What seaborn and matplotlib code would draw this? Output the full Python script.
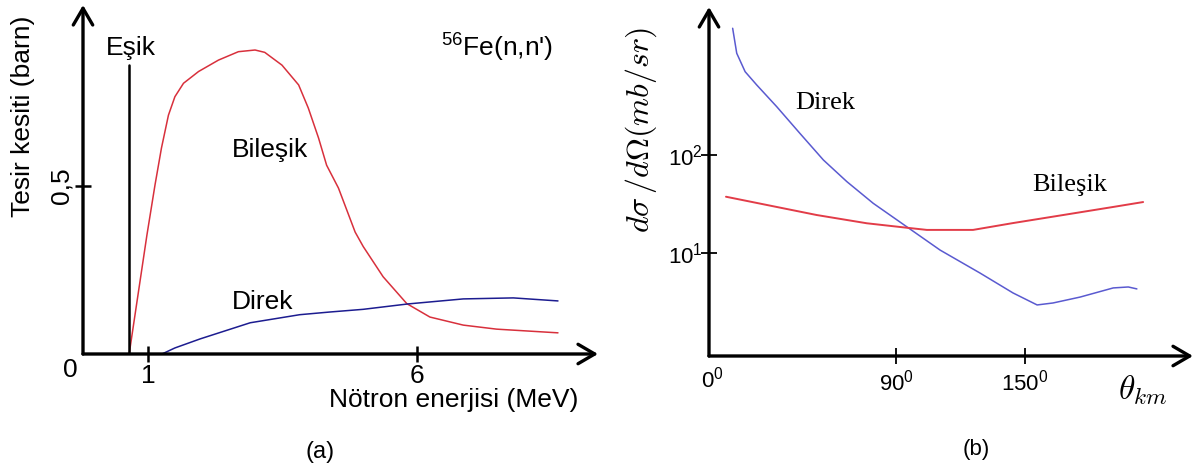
import matplotlib
matplotlib.use("Agg")
import matplotlib.pyplot as plt
import seaborn as sns
import pandas as pd

# ---------------- data ----------------
# (a) 56Fe(n,n') cross section vs neutron energy
energy_compound = [0.65, 0.98, 1.13, 1.25, 1.38, 1.50, 1.66, 1.94, 2.31, 2.68,
                   2.99, 3.17, 3.49, 3.80, 3.98, 4.17, 4.32, 4.54, 4.85, 5.00,
                   5.37, 5.81, 6.24, 6.86, 7.48, 8.62]
sigma_compound = [0.0, 0.354, 0.503, 0.613, 0.711, 0.766, 0.806, 0.841, 0.875, 0.900,
                  0.905, 0.898, 0.860, 0.801, 0.732, 0.643, 0.562, 0.494, 0.363, 0.32,
                  0.23, 0.15, 0.11, 0.086, 0.074, 0.063]
energy_direct = [1.26, 1.50, 1.97, 2.90, 3.82, 4.38, 5.00, 5.83, 6.86, 7.79, 8.62]
sigma_direct = [0.0, 0.018, 0.045, 0.093, 0.117, 0.125, 0.133, 0.149, 0.164, 0.167, 0.158]
threshold_energy = 0.65
threshold_height = 0.86
xticks_a = [1, 6]
xticklabels_a = ["1", "6"]
yticks_a = [0.5]
yticklabels_a = ["0,5"]

# (b) angular distribution
angle_direct = [14.0, 15.9, 19.8, 25.2, 34.5, 45.3, 56.2, 67.1, 79.4, 95.0,
                110.5, 129, 144.4, 155.6, 163, 175.6, 191, 198, 202]
dsdo_direct = [1963, 1091, 708, 518, 311, 166, 88.9, 53.5, 32.1, 18.5,
               10.7, 6.25, 3.91, 2.95, 3.09, 3.55, 4.40, 4.50, 4.30]
angle_compound = [10.9, 29.9, 53.1, 76.4, 95.0, 104.3, 125.8, 144.4, 167.7, 191, 204.9]
dsdo_compound = [37.5, 30.9, 24.4, 20.1, 18.1, 17.2, 17.2, 20.2, 24.4, 29.5, 33.1]
xticks_b = [90, 150]
xticklabels_b = [r"$\mathregular{90^{0}}$", r"$\mathregular{150^{0}}$"]
yticks_b = [10, 100]
yticklabels_b = [r"$\mathregular{10^{1}}$", r"$\mathregular{10^{2}}$"]

# ---------------- style ----------------
sns.set_theme(style="white")
plt.rcParams["font.family"] = ["Liberation Sans", "DejaVu Sans"]
plt.rcParams["mathtext.fontset"] = "cm"
plt.rcParams["text.color"] = "black"
plt.rcParams["xtick.color"] = "black"
plt.rcParams["ytick.color"] = "black"
plt.rcParams["axes.labelcolor"] = "black"

W, H = 1202, 472
fig = plt.figure(figsize=(W / 100, H / 100), dpi=100)
fig.patch.set_facecolor("white")


def fx(px):
    return px / W


def fy(py):
    return 1 - py / H


axL = fig.add_axes([fx(83), fy(354), fx(598) - fx(83), fy(5) - fy(354)])
axR = fig.add_axes([fx(709), fy(356), fx(1193) - fx(709), fy(7) - fy(356)])

RED_A = "#d8303c"
BLUE_A = "#1c1c90"
RED_B = "#e23c48"
BLUE_B = "#5a5ad0"


def arrow_axes(ax):
    for s in ax.spines.values():
        s.set_visible(False)
    kw = dict(arrowstyle="->,head_length=0.6,head_width=0.35", lw=2.4,
              color="black", shrinkA=0, shrinkB=0, mutation_scale=20)
    ax.annotate("", xy=(1, 0), xytext=(0, 0), xycoords="axes fraction",
                arrowprops=kw, annotation_clip=False)
    ax.annotate("", xy=(0, 1), xytext=(0, 0), xycoords="axes fraction",
                arrowprops=kw, annotation_clip=False)
    ax.tick_params(direction="inout", length=11, width=1.8, color="black",
                   labelcolor="black", bottom=True, left=True)
    ax.set_xlabel("")
    ax.set_ylabel("")
    ax.set_facecolor("white")


# ---------------- panel (a) ----------------
dfa_c = pd.DataFrame({"E": energy_compound, "s": sigma_compound})
dfa_d = pd.DataFrame({"E": energy_direct, "s": sigma_direct})
sns.lineplot(data=dfa_c, x="E", y="s", ax=axL, color=RED_A, lw=1.1)
sns.lineplot(data=dfa_d, x="E", y="s", ax=axL, color=BLUE_A, lw=1.1)
axL.plot([threshold_energy, threshold_energy], [0, threshold_height],
         color="black", lw=1.8)
axL.set_xlim(-0.208, 9.364)
axL.set_ylim(0, 1.039)
arrow_axes(axL)
axL.set_xticks(xticks_a, xticklabels_a, fontsize=19)
axL.set_yticks(yticks_a, yticklabels_a, fontsize=19, rotation=90, va="center")
axL.tick_params(axis="x", pad=2)
axL.tick_params(axis="y", pad=1)

axL.text(0.22, 0.911, "Eşik", fontsize=19, ha="left", va="center")
axL.text(2.56, 0.607, "Bileşik", fontsize=19, ha="left", va="center")
axL.text(2.56, 0.155, "Direk", fontsize=19, ha="left", va="center")
axL.text(6.45, 0.91, r"$\mathregular{^{56}}$Fe(n,n')", fontsize=19,
         ha="left", va="center")

fig.text(fx(70), fy(370), "0", fontsize=19, ha="center", va="center")
fig.text(fx(23), fy(116), "Tesir kesiti (barn)", fontsize=19, rotation=90,
         ha="center", va="center")
fig.text(fx(454), fy(400), "Nötron enerjisi (MeV)", fontsize=19,
         ha="center", va="center")
fig.text(fx(320), fy(452), "(a)", fontsize=17, ha="center", va="center")

# ---------------- panel (b) ----------------
dfb_d = pd.DataFrame({"t": angle_direct, "v": dsdo_direct})
dfb_c = pd.DataFrame({"t": angle_compound, "v": dsdo_compound})
sns.lineplot(data=dfb_d, x="t", y="v", ax=axR, color=BLUE_B, lw=1.1)
sns.lineplot(data=dfb_c, x="t", y="v", ax=axR, color=RED_B, lw=1.4)
axR.set_yscale("log")
axR.set_xlim(3.0, 228.1)
axR.set_ylim(0.889, 3236)
arrow_axes(axR)
axR.minorticks_off()
axR.set_xticks(xticks_b, xticklabels_b, fontsize=16)
axR.set_yticks(yticks_b, yticklabels_b, fontsize=16)
axR.tick_params(axis="both", width=1.3)
axR.tick_params(axis="x", pad=4)
axR.tick_params(axis="y", pad=-1)

axR.text(43, 339, "Direk", fontsize=19, family=["Liberation Serif"],
         ha="left", va="center")
axR.text(153.3, 49.4, "Bileşik", fontsize=19, family=["Liberation Serif"],
         ha="left", va="center")

fig.text(fx(712), fy(380), r"$\mathregular{0^{0}}$", fontsize=16,
         ha="center", va="center")
fig.text(fx(1143), fy(390), r"$\theta_{km}$", fontsize=24, ha="center",
         va="center")
fig.text(fx(641), fy(130), r"$d\sigma\,/d\Omega(mb/sr)$", fontsize=23,
         rotation=90, ha="center", va="center")
fig.text(fx(976), fy(450), "(b)", fontsize=16, ha="center", va="center")

fig.savefig("out.png", dpi=100, facecolor="white")
